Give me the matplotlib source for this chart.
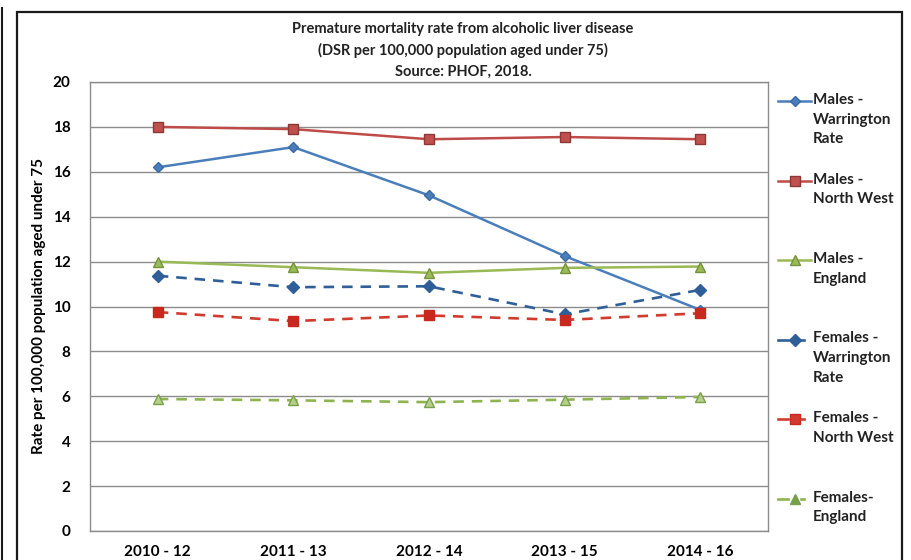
import matplotlib
matplotlib.use("Agg")
import matplotlib.pyplot as plt
from matplotlib.lines import Line2D
from matplotlib.patches import Rectangle

plt.rcParams["font.family"] = ["Lato", "DejaVu Sans"]
plt.rcParams["font.weight"] = "bold"

periods = ["2010 - 12", "2011 - 13", "2012 - 14", "2013 - 15", "2014 - 16"]

males_warrington = [16.2, 17.1, 14.95, 12.25, 9.85]
males_north_west = [18.0, 17.9, 17.45, 17.55, 17.45]
males_england = [12.0, 11.75, 11.5, 11.72, 11.78]
females_warrington = [11.37, 10.86, 10.9, 9.65, 10.74]
females_north_west = [9.75, 9.35, 9.6, 9.4, 9.7]
females_england = [5.88, 5.82, 5.74, 5.85, 5.97]

labels = ["Males -\nWarrington\nRate", "Males -\nNorth West", "Males -\nEngland",
          "Females -\nWarrington\nRate", "Females -\nNorth West", "Females-\nEngland"]
series = [males_warrington, males_north_west, males_england,
          females_warrington, females_north_west, females_england]

# line colour, marker, marker face, marker edge, marker size, dashed
styles = [
    ("#4A7EBB", "D", "#4A7EBB", "#3A6BA5", 5, False),
    ("#BE4B48", "s", "#C0504D", "#8C3836", 7, False),
    ("#98B954", "^", "#9BBB59", "#76933C", 7, False),
    ("#2F5F98", "D", "#2F5F98", "#2F5F98", 6, True),
    ("#D03B2E", "s", "#C8281E", "#C8281E", 7, True),
    ("#8DB44F", "^", "#B5D08A", "#77A04A", 7, True),
]

W, H = 911, 560
fig = plt.figure(figsize=(W / 100, H / 100), dpi=100)
ax = fig.add_axes([90 / W, 1 - 531 / H, (768 - 90) / W, (531 - 82) / H])

x = range(len(periods))
for vals, (col, mk, mfc, mec, ms, dashed) in zip(series, styles):
    ax.plot(x, vals, color=col, lw=1.8 if not dashed else 1.9,
            linestyle=(0, (4, 3)) if dashed else "-",
            marker=mk, markersize=ms, markerfacecolor=mfc, markeredgecolor=mec,
            markeredgewidth=1.0, zorder=3)

ax.set_xlim(-0.5, len(periods) - 0.5)
ax.set_ylim(0, 20)
ax.set_yticks(range(0, 21, 2))
ax.set_xticks(list(x))
ax.set_xticklabels(periods)
ax.tick_params(length=0, labelsize=11, pad=14)
ax.tick_params(axis="x", pad=10)
ax.grid(axis="y", color="#8C8C8C", lw=1)
ax.set_axisbelow(True)
for s in ax.spines.values():
    s.set_color("#8C8C8C")
    s.set_linewidth(1)

ax.set_ylabel("Rate per 100,000 population aged under 75", fontsize=11,
              fontweight="bold", labelpad=5)

fig.text(463 / W, 1 - 50 / H,
         "Premature mortality rate from alcoholic liver disease\n"
         "(DSR per 100,000 population aged under 75)\nSource: PHOF, 2018.",
         ha="center", va="center", fontsize=10.5, fontweight="bold",
         linespacing=1.6, color="#222222")

# legend drawn by hand so every entry starts at an even step
for i, (lab, (col, mk, mfc, mec, ms, dashed)) in enumerate(zip(labels, styles)):
    yy = 1 - (101 + 79.5 * i) / H
    if dashed:
        fig.add_artist(Line2D([778 / W, 788 / W], [yy, yy], color=col, lw=1.9))
        fig.add_artist(Line2D([795 / W], [yy], marker=mk, markersize=ms,
                              markerfacecolor=col if mk != "^" else "#77A04A",
                              markeredgecolor=mec, lw=0))
        fig.add_artist(Line2D([801 / W, 804 / W], [yy, yy], color=col, lw=1.9))
    else:
        fig.add_artist(Line2D([778 / W, 811 / W], [yy, yy], color=col, lw=1.8))
        fig.add_artist(Line2D([794.5 / W], [yy], marker=mk, markersize=ms,
                              markerfacecolor=mfc, markeredgecolor=mec, lw=0))
    fig.text(813 / W, yy + 8 / H, lab, ha="left", va="top", fontsize=11,
             fontweight="bold", linespacing=1.52, color="#222222")

# outer chart frame and page edge
fig.add_artist(Rectangle((17 / W, -0.05), (902 - 17) / W, 1.05 - 12 / H,
                         fill=False, edgecolor="#1A1A1A", lw=1.6,
                         transform=fig.transFigure))
fig.add_artist(Line2D([1.5 / W, 1.5 / W], [0, 1 - 8 / H], color="#1A1A1A", lw=1.5))

fig.savefig("out.png", dpi=100)
